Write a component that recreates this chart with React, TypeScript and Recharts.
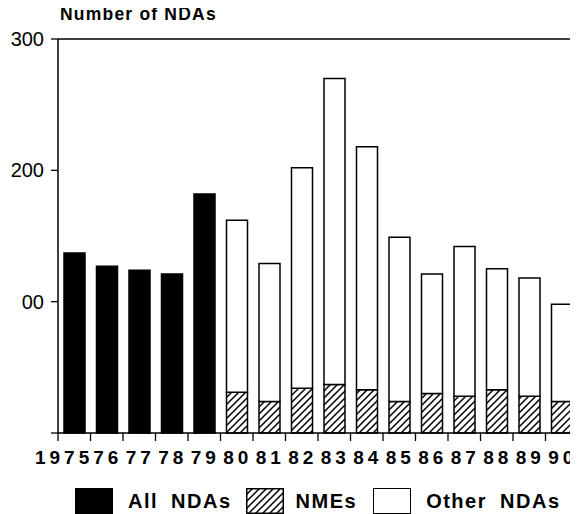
import React from 'react'
import { BarChart, Bar, XAxis, YAxis, Legend, ReferenceLine } from 'recharts'

const years = ['1975', '76', '77', '78', '79', '80', '81', '82', '83', '84', '85', '86', '87', '88', '89', '90']
const allNdas = [137, 127, 124, 121, 182, 0, 0, 0, 0, 0, 0, 0, 0, 0, 0, 0]
const nmes = [0, 0, 0, 0, 0, 31, 24, 34, 37, 33, 24, 30, 28, 33, 28, 24]
const otherNdas = [0, 0, 0, 0, 0, 131, 105, 168, 233, 185, 125, 91, 114, 92, 90, 74]
const yTicks = [0, 100, 200, 300]
const yTickLabels = ['', '00', '200', '300']

const data = years.map((year, i) => ({
  year,
  all: allNdas[i],
  nme: nmes[i],
  other: otherNdas[i],
}))

const FONT = '"Liberation Sans", Arial, Helvetica, sans-serif'

function YearTick(props: any) {
  const { x, y, payload, index } = props
  const half = 16.25
  const first = index === 0
  return (
    <g>
      <line x1={x - half} x2={x - half} y1={y - 8} y2={y} stroke="#000" strokeWidth={1.3} />
      <text
        x={first ? x + 19 : x + 1}
        y={y + 23}
        textAnchor={first ? 'end' : 'middle'}
        fontFamily={FONT}
        fontWeight="bold"
        fontSize={19}
        letterSpacing={4}
        fill="#000"
      >
        {payload.value}
      </text>
    </g>
  )
}

const swatch: React.CSSProperties = {
  width: 38,
  height: 26,
  boxSizing: 'border-box',
  border: '1.5px solid #000',
}

const labelStyle: React.CSSProperties = {
  fontFamily: FONT,
  fontWeight: 'bold',
  fontSize: 20,
  letterSpacing: 1.5,
  wordSpacing: 6,
  lineHeight: '26px',
  whiteSpace: 'nowrap',
}

function LegendBox() {
  return (
    <div style={{ display: 'flex', alignItems: 'flex-end', paddingLeft: 67, height: 26 }}>
      <div style={{ ...swatch, background: '#000' }} />
      <span style={{ ...labelStyle, marginLeft: 15 }}>All NDAs</span>
      <svg width={38} height={26} style={{ marginLeft: 14 }}>
        <rect x={0.75} y={0.75} width={36.5} height={24.5} fill="url(#hatch)" stroke="#000" strokeWidth={1.5} />
      </svg>
      <span style={{ ...labelStyle, marginLeft: 12 }}>NMEs</span>
      <div style={{ ...swatch, background: '#fff', marginLeft: 16 }} />
      <span style={{ ...labelStyle, marginLeft: 15 }}>Other NDAs</span>
    </div>
  )
}

export default function App() {
  // pulled up over the body margin so the title is not clipped by the svg edge
  return (
    <div style={{ position: 'relative', top: -8, width: 570, height: 514, fontFamily: FONT }}>
      <BarChart
        width={570}
        height={514}
        data={data}
        margin={{ top: 39, right: 0, bottom: 0, left: 0 }}
        barSize={21}
      >
        <defs>
          <pattern id="hatch" patternUnits="userSpaceOnUse" width={7} height={7}>
            <rect width={7} height={7} fill="#fff" />
            <path d="M-1,1 L1,-1 M0,7 L7,0 M6,8 L8,6" stroke="#000" strokeWidth={1.5} />
          </pattern>
        </defs>
        <XAxis
          dataKey="year"
          height={55}
          interval={0}
          tickSize={8}
          tickMargin={0}
          tickLine={false}
          axisLine={{ stroke: '#000', strokeWidth: 1.5 }}
          tick={<YearTick />}
        />
        <YAxis
          width={50}
          domain={[0, 300]}
          ticks={yTicks}
          tickSize={7}
          tickMargin={7}
          tickFormatter={(v: number) => yTickLabels[yTicks.indexOf(v)]}
          axisLine={{ stroke: '#000', strokeWidth: 1.5 }}
          tickLine={{ stroke: '#000', strokeWidth: 1.3 }}
          tick={{ fill: '#000', fontSize: 20, fontFamily: FONT }}
        />
        <ReferenceLine
          y={300}
          stroke="#000"
          strokeWidth={1.5}
          label={{
            value: 'Number of NDAs',
            position: 'insideTopLeft',
            offset: 0,
            dx: 2,
            dy: -31,
            fill: '#000',
            fontSize: 17.5,
            fontWeight: 'bold',
            fontFamily: FONT,
            letterSpacing: 1.2,
          }}
        />
        <Bar dataKey="all" name="All NDAs" stackId="a" fill="#000" stroke="#000" strokeWidth={1.5} isAnimationActive={false} />
        <Bar dataKey="nme" name="NMEs" stackId="a" fill="url(#hatch)" stroke="#000" strokeWidth={1.5} isAnimationActive={false} />
        <Bar dataKey="other" name="Other NDAs" stackId="a" fill="#fff" stroke="#000" strokeWidth={1.5} isAnimationActive={false} />
        <Legend
          verticalAlign="bottom"
          height={26}
          content={<LegendBox />}
          wrapperStyle={{ left: 0, width: 570 }}
        />
      </BarChart>
    </div>
  )
}
